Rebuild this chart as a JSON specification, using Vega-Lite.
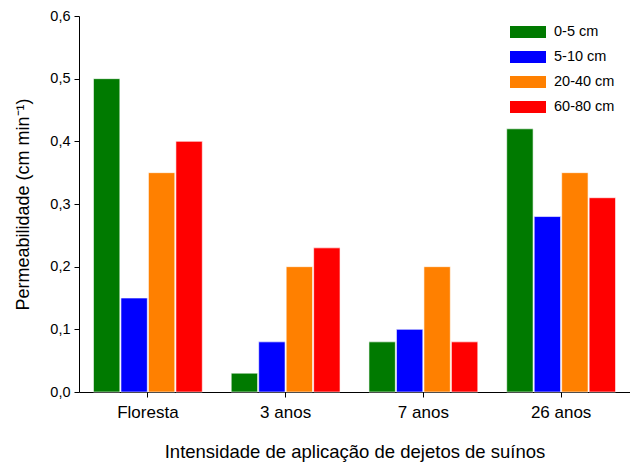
{
  "$schema": "https://vega.github.io/schema/vega-lite/v6.json",
  "width": 551,
  "height": 376,
  "autosize": {"type": "none"},
  "padding": {"left": 79, "top": 16, "right": 0, "bottom": 70},
  "background": "white",
  "config": {
    "locale": {"number": {"decimal": ",", "thousands": ".", "grouping": [3], "currency": ["R$", ""]}},
    "font": "Liberation Sans",
    "view": {"stroke": null}
  },
  "data": {"values": [
    {"g": "Floresta", "d": "0-5 cm", "v": 0.50},
    {"g": "Floresta", "d": "5-10 cm", "v": 0.15},
    {"g": "Floresta", "d": "20-40 cm", "v": 0.35},
    {"g": "Floresta", "d": "60-80 cm", "v": 0.40},
    {"g": "3 anos", "d": "0-5 cm", "v": 0.03},
    {"g": "3 anos", "d": "5-10 cm", "v": 0.08},
    {"g": "3 anos", "d": "20-40 cm", "v": 0.20},
    {"g": "3 anos", "d": "60-80 cm", "v": 0.23},
    {"g": "7 anos", "d": "0-5 cm", "v": 0.08},
    {"g": "7 anos", "d": "5-10 cm", "v": 0.10},
    {"g": "7 anos", "d": "20-40 cm", "v": 0.20},
    {"g": "7 anos", "d": "60-80 cm", "v": 0.08},
    {"g": "26 anos", "d": "0-5 cm", "v": 0.42},
    {"g": "26 anos", "d": "5-10 cm", "v": 0.28},
    {"g": "26 anos", "d": "20-40 cm", "v": 0.35},
    {"g": "26 anos", "d": "60-80 cm", "v": 0.31}
  ]},
  "mark": {"type": "bar", "stroke": "white", "strokeWidth": 1, "strokeOpacity": 0.6},
  "encoding": {
    "x": {"field": "g", "type": "nominal", "sort": ["Floresta", "3 anos", "7 anos", "26 anos"],
      "scale": {"paddingInner": 0.21, "paddingOuter": 0.105},
      "axis": {"title": "Intensidade de aplicação de dejetos de suínos", "labelAngle": 0, "labelPadding": 7, "titlePadding": 22,
        "grid": false, "domainColor": "black", "tickColor": "black", "labelColor": "black", "titleColor": "black",
        "labelFontSize": 17, "titleFontSize": 18.5, "titleFontWeight": "normal", "tickSize": 5}},
    "xOffset": {"field": "d", "type": "nominal", "sort": ["0-5 cm", "5-10 cm", "20-40 cm", "60-80 cm"], "scale": {"paddingInner": 0.04}},
    "y": {"field": "v", "type": "quantitative", "scale": {"domain": [0, 0.6], "nice": false},
      "axis": {"title": "Permeabilidade (cm min⁻¹)", "format": ".1f", "values": [0, 0.1, 0.2, 0.3, 0.4, 0.5, 0.6], "labelOverlap": false, "labelPadding": 4, "titlePadding": 17,
        "grid": false, "domainColor": "black", "tickColor": "black", "labelColor": "black", "titleColor": "black",
        "labelFontSize": 14.5, "titleFontSize": 18, "titleFontWeight": "normal", "tickSize": 5}},
    "color": {"field": "d", "type": "nominal", "sort": ["0-5 cm", "5-10 cm", "20-40 cm", "60-80 cm"],
      "scale": {"domain": ["0-5 cm", "5-10 cm", "20-40 cm", "60-80 cm"], "range": ["#007a00", "#0000ff", "#ff8000", "#ff0000"]},
      "legend": {"title": null, "orient": "none", "legendX": 431, "legendY": -2, "symbolType": "M-1,-0.33H1V0.33H-1Z", "symbolSize": 1296, "symbolStrokeWidth": 0, "symbolOpacity": 1, "labelFontSize": 14.5, "labelColor": "black", "rowPadding": -18, "labelOffset": 8}}
  }
}
